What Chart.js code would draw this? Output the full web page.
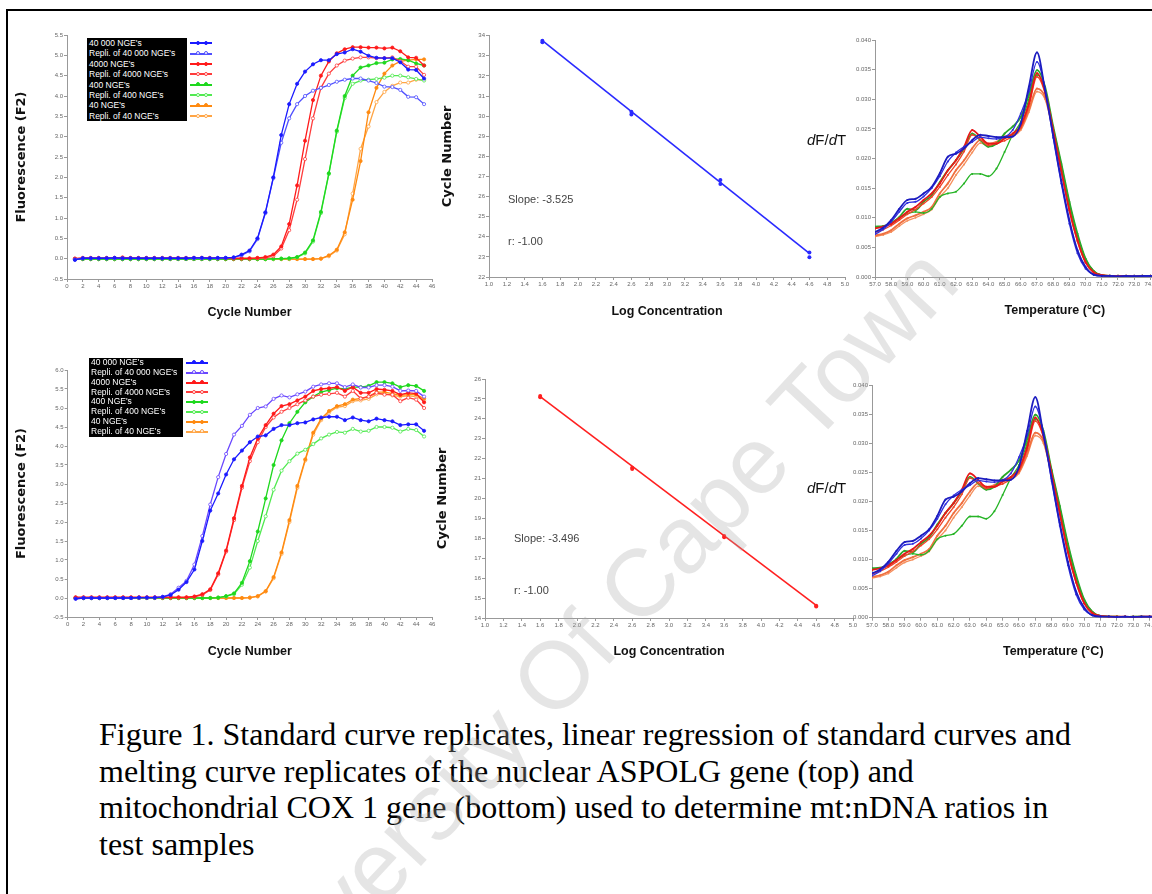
<!DOCTYPE html>
<html>
<head>
<meta charset="utf-8">
<script src="https://cdn.jsdelivr.net/npm/chart.js@4.4.0/dist/chart.umd.min.js"></script>
<style>
  body { margin: 0; width: 1152px; height: 894px; overflow: hidden; background: #fff; position: relative; font-family: 'Liberation Sans', Arial, sans-serif; }
  .frame { position: absolute; left: 6px; top: 9px; width: 1300px; height: 1000px; border-left: 2px solid #000; border-top: 2px solid #000; }
  .cv { position: absolute; }
  .legend { position: absolute; background: #000; color: #fff; font-size: 8.5px; }
  .legend div { padding-left: 2px; white-space: nowrap; }
  .sample { position: absolute; height: 2px; }
  .sample span { position: absolute; top: -1.5px; width: 4px; height: 4px; border-radius: 50%; }
  .note { position: absolute; font-size: 11px; color: #444; }
  .dfdt { position: absolute; font-size: 15px; color: #111; }
  .caption { position: absolute; left: 99px; top: 716px; font-family: 'Liberation Serif', 'Times New Roman', serif; font-size: 32px; line-height: 36.7px; color: #000; white-space: nowrap; }
  .watermark { position: absolute; left: -17px; top: 597px; width: 1200px; height: 95px; font-size: 95px; line-height: 95px; text-align: center; color: rgba(170,170,170,0.3); transform: rotate(-47deg); white-space: nowrap; pointer-events: none; z-index: 10; }
</style>
</head>
<body>
<div class="frame"></div>

<script>
// amplification curves (cycle number vs fluorescence F2)
const cycles = [1,2,3,4,5,6,7,8,9,10,11,12,13,14,15,16,17,18,19,20,21,22,23,24,25,26,27,28,29,30,31,32,33,34,35,36,37,38,39,40,41,42,43,44,45]
const ampNames = ["40 000 NGE's", "Repli. of 40 000 NGE's", "4000 NGE's", "Repli. of 4000 NGE's", "400 NGE's", "Repli. of 400 NGE's", "40 NGE's", "Repli. of 40 NGE's"]

// top: nuclear ASPOLG
const topBlue1 = [-0.03,0.01,0.01,0.01,0.01,0.02,0.01,0.01,0.01,0.01, 0.01,0.01,0.01,0.01,0.01,0.02,0.02,0.01,0.02,0.02, 0.03,0.10,0.20,0.50,1.14,2.00,3.04,3.80,4.30,4.60, 4.78,4.88,4.88,5.03,5.07,5.15,5.09,4.99,4.94,4.93, 4.93,4.83,4.65,4.64,4.43]
const topBlue2 = [-0.02,0.01,0.01,0.01,0.01,0.01,0.01,0.01,0.01,0.01, 0.01,0.01,0.01,0.01,0.01,0.01,0.01,0.01,0.01,0.02, 0.03,0.08,0.18,0.48,1.12,1.98,2.85,3.45,3.80,4.00, 4.13,4.20,4.27,4.35,4.40,4.43,4.43,4.38,4.32,4.23, 4.22,4.15,3.98,3.97,3.80]
const topRed1 = [0.00,0.02,0.02,0.02,0.02,0.02,0.03,0.02,0.02,0.02, 0.02,0.02,0.02,0.02,0.02,0.02,0.02,0.02,0.01,0.01, 0.01,0.01,0.01,0.02,0.04,0.10,0.30,0.85,1.80,2.90, 3.90,4.50,4.85,5.05,5.15,5.20,5.20,5.19,5.19,5.17, 5.19,5.10,4.95,4.94,4.75]
const topRed2 = [0.00,0.01,0.01,0.01,0.01,0.01,0.01,0.01,0.01,0.01, 0.01,0.01,0.01,0.01,0.01,0.01,0.01,0.01,0.01,0.01, 0.00,0.00,0.00,0.01,0.02,0.06,0.25,0.70,1.45,2.45, 3.45,4.20,4.55,4.75,4.87,4.92,4.95,4.95,4.93,4.93, 4.95,4.86,4.72,4.72,4.52]
const topGreen1 = [-0.01,-0.01,-0.01,-0.01,-0.01,-0.01,-0.01,-0.01,-0.01,-0.01, -0.01,-0.01,-0.01,-0.01,-0.01,-0.01,-0.01,-0.01,-0.01,-0.01, -0.01,-0.01,-0.01,-0.01,-0.01,0.00,0.00,0.01,0.04,0.15, 0.45,1.15,2.10,3.15,4.00,4.50,4.70,4.75,4.81,4.82, 4.90,4.91,4.88,4.80,4.75]
const topGreen2 = [-0.01,-0.01,-0.01,-0.01,-0.01,-0.01,-0.01,-0.01,-0.01,-0.01, -0.01,-0.01,-0.01,-0.01,-0.01,-0.01,-0.01,-0.01,-0.01,-0.01, 0.00,0.00,-0.01,-0.01,-0.01,-0.01,0.00,0.00,0.03,0.13, 0.42,1.12,2.08,3.12,3.95,4.30,4.38,4.40,4.42,4.45, 4.50,4.50,4.46,4.42,4.38]
const topOrange1 = [-0.01,-0.01,-0.01,-0.01,-0.01,-0.01,-0.01,-0.01,-0.01,-0.01, -0.01,-0.01,-0.01,-0.01,-0.01,-0.01,-0.01,-0.01,-0.01,-0.01, -0.01,-0.01,-0.01,-0.01,-0.01,-0.01,-0.01,-0.01,-0.01,-0.01, -0.01,0.00,0.08,0.22,0.65,1.45,2.40,3.60,4.20,4.55, 4.75,4.85,4.88,4.90,4.90]
const topOrange2 = [-0.01,-0.01,-0.01,-0.01,-0.01,-0.01,-0.01,-0.01,-0.01,-0.01, -0.01,-0.01,-0.01,-0.01,-0.01,-0.01,-0.01,-0.01,-0.01,-0.01, -0.01,-0.01,-0.01,-0.01,-0.01,-0.01,-0.01,-0.01,-0.01,-0.01, -0.01,0.00,0.06,0.20,0.60,1.60,2.70,3.25,3.85,4.10, 4.25,4.33,4.33,4.40,4.40]

// bottom: mitochondrial COX 1
const botBlue1 = [-0.02,0.00,0.00,0.00,0.00,0.00,0.00,0.00,0.01,0.01, 0.01,0.03,0.08,0.22,0.42,0.75,1.50,2.30,2.75,3.25, 3.65,3.88,4.10,4.25,4.28,4.45,4.55,4.55,4.60,4.62, 4.70,4.75,4.77,4.77,4.68,4.75,4.68,4.65,4.72,4.68, 4.65,4.55,4.57,4.57,4.40]
const botBlue2 = [-0.02,0.00,0.00,0.00,0.00,0.00,0.00,0.00,0.01,0.01, 0.01,0.03,0.10,0.27,0.45,0.88,1.63,2.46,3.18,3.79, 4.30,4.53,4.82,5.00,5.04,5.24,5.33,5.28,5.36,5.43, 5.56,5.62,5.65,5.65,5.55,5.62,5.54,5.54,5.60,5.60, 5.56,5.45,5.46,5.45,5.30]
const botRed1 = [0.02,0.02,0.02,0.02,0.02,0.02,0.02,0.02,0.02,0.02, 0.02,0.02,0.02,0.02,0.02,0.04,0.10,0.23,0.65,1.25, 2.10,2.95,3.70,4.20,4.55,4.85,5.05,5.10,5.20,5.30, 5.45,5.50,5.52,5.55,5.45,5.55,5.40,5.40,5.50,5.48, 5.45,5.35,5.40,5.38,5.15]
const botRed2 = [0.01,0.01,0.01,0.01,0.01,0.01,0.01,0.01,0.01,0.01, 0.01,0.01,0.01,0.01,0.01,0.03,0.08,0.21,0.62,1.22, 2.05,2.90,3.60,4.10,4.50,4.75,4.90,5.00,5.10,5.20, 5.30,5.35,5.37,5.40,5.30,5.45,5.25,5.30,5.40,5.35, 5.35,5.18,5.27,5.22,5.00]
const botGreen1 = [0.00,0.00,0.00,0.00,0.00,0.00,0.00,0.00,0.00,0.00, 0.00,0.00,0.00,0.00,0.00,0.00,0.00,0.00,0.01,0.05, 0.12,0.40,0.97,1.75,2.62,3.50,4.15,4.60,4.90,5.15, 5.30,5.42,5.47,5.52,5.50,5.55,5.55,5.58,5.68,5.68, 5.65,5.55,5.60,5.58,5.45]
const botGreen2 = [0.00,0.00,0.00,0.00,0.00,0.00,0.00,0.00,0.00,0.00, 0.00,0.00,0.00,0.00,0.00,0.00,0.00,0.00,0.01,0.04, 0.10,0.35,0.80,1.50,2.15,2.85,3.35,3.60,3.80,3.90, 4.05,4.20,4.30,4.37,4.35,4.45,4.38,4.40,4.50,4.50, 4.48,4.38,4.45,4.42,4.25]
const botOrange1 = [0.00,0.00,0.00,0.00,0.00,0.00,0.00,0.00,0.00,0.00, 0.00,0.00,0.00,0.00,0.00,0.00,0.00,0.00,0.00,0.00, 0.00,0.00,0.01,0.05,0.18,0.55,1.20,2.05,2.95,3.65, 4.35,4.72,4.92,5.05,5.10,5.22,5.25,5.30,5.42,5.42, 5.38,5.33,5.35,5.35,5.25]
const botOrange2 = [0.00,0.00,0.00,0.00,0.00,0.00,0.00,0.00,0.00,0.00, 0.00,0.00,0.00,0.00,0.00,0.00,0.00,0.00,0.00,0.00, 0.00,0.00,0.01,0.04,0.17,0.52,1.16,2.00,2.90,3.62, 4.30,4.68,4.88,5.02,5.05,5.18,5.20,5.24,5.36,5.38, 5.33,5.30,5.32,5.30,5.20]

// standard curves (log concentration vs cycle number), two replicates per level
const logConc = [1.6, 1.6, 2.6, 2.6, 3.6, 3.6, 4.6, 4.6]
const topCt = [33.75, 33.68, 30.22, 30.08, 26.82, 26.62, 23.22, 22.98]
const botCt = [25.15, 25.08, 21.55, 21.48, 18.12, 18.05, 14.62, 14.58]
const fitX = [1.6, 4.6]
const topFitY = [33.75, 23.17]
const botFitY = [25.12, 14.63]

// melting curves (temperature vs dF/dT), same for both genes
const meltTemps = [57.0,57.5,58.0,58.5,59.0,59.5,60.0,60.5,61.0,61.5,62.0,62.5,63.0,63.5,64.0,64.5,65.0,65.5,66.0,66.5,67.0,67.5,68.0,68.5,69.0,69.5,70.0,70.5,71.0,71.5,72.0,72.5,73.0,73.5,74.0,74.5]
const meltBlue1 = [0.0076,0.0083,0.0096,0.0115,0.0130,0.0132,0.0141,0.0152,0.0175,0.0203,0.0208,0.0217,0.0231,0.0240,0.0238,0.0236,0.0236,0.0237,0.0259,0.0321,0.0379,0.0315,0.0239,0.0163,0.0096,0.0045,0.0017,0.0004,0.0002,0.0002,0.0001,0.0002,0.0001,0.0002,0.0002,0.0002]
const meltBlue2 = [0.0072,0.0080,0.0093,0.0110,0.0125,0.0127,0.0136,0.0150,0.0170,0.0195,0.0210,0.0220,0.0228,0.0236,0.0234,0.0233,0.0236,0.0248,0.0276,0.0313,0.0363,0.0318,0.0235,0.0158,0.0090,0.0040,0.0014,0.0004,0.0002,0.0002,0.0001,0.0001,0.0002,0.0001,0.0001,0.0001]
const meltRed1 = [0.0082,0.0085,0.0090,0.0099,0.0110,0.0118,0.0130,0.0141,0.0158,0.0180,0.0197,0.0220,0.0248,0.0237,0.0225,0.0225,0.0234,0.0242,0.0256,0.0293,0.0344,0.0313,0.0248,0.0180,0.0113,0.0062,0.0025,0.0008,0.0003,0.0002,0.0002,0.0002,0.0001,0.0002,0.0002,0.0002]
const meltRed2 = [0.0075,0.0080,0.0087,0.0096,0.0106,0.0114,0.0124,0.0135,0.0152,0.0172,0.0190,0.0212,0.0240,0.0232,0.0222,0.0226,0.0230,0.0238,0.0252,0.0288,0.0338,0.0310,0.0246,0.0178,0.0112,0.0060,0.0024,0.0007,0.0003,0.0002,0.0001,0.0002,0.0002,0.0001,0.0002,0.0001]
const meltGreen1 = [0.0085,0.0086,0.0090,0.0101,0.0115,0.0113,0.0127,0.0138,0.0160,0.0180,0.0197,0.0217,0.0242,0.0231,0.0220,0.0225,0.0242,0.0254,0.0270,0.0307,0.0349,0.0321,0.0254,0.0192,0.0127,0.0073,0.0031,0.0010,0.0003,0.0002,0.0002,0.0001,0.0002,0.0002,0.0001,0.0002]
const meltGreen2 = [0.0083,0.0085,0.0092,0.0100,0.0107,0.0110,0.0108,0.0115,0.0135,0.0141,0.0144,0.0158,0.0174,0.0174,0.0170,0.0183,0.0211,0.0240,0.0262,0.0299,0.0341,0.0318,0.0252,0.0190,0.0125,0.0070,0.0030,0.0010,0.0003,0.0002,0.0002,0.0002,0.0001,0.0002,0.0002,0.0001]
const meltOrange1 = [0.0070,0.0073,0.0079,0.0090,0.0099,0.0104,0.0110,0.0118,0.0141,0.0158,0.0180,0.0197,0.0217,0.0231,0.0225,0.0228,0.0237,0.0240,0.0251,0.0282,0.0318,0.0304,0.0248,0.0186,0.0118,0.0068,0.0028,0.0009,0.0003,0.0002,0.0002,0.0001,0.0002,0.0002,0.0002,0.0001]
const meltOrange2 = [0.0068,0.0071,0.0076,0.0086,0.0095,0.0100,0.0106,0.0114,0.0135,0.0150,0.0172,0.0190,0.0210,0.0226,0.0222,0.0226,0.0234,0.0238,0.0248,0.0278,0.0313,0.0300,0.0245,0.0184,0.0116,0.0066,0.0027,0.0008,0.0003,0.0002,0.0001,0.0002,0.0001,0.0002,0.0001,0.0002]

const topColors = ['#1a1aff', '#5050ff', '#ff1a1a', '#ff3c3c', '#1ed81e', '#52ea52', '#ff8a10', '#ffa545']
const botColors = ['#1a1aff', '#6a48ff', '#ff1a1a', '#ff3c3c', '#1ed81e', '#52ea52', '#ff8a10', '#ffa545']
const meltColors = ['#1c1cc0', '#3030dd', '#e81818', '#f04428', '#2aa82a', '#26b426', '#f07040', '#f5905e']

const yTitleFont = { family: "'DejaVu Sans', sans-serif", weight: 'bold', size: 13 }
const xTitleFont = { family: "'Liberation Sans', Arial, sans-serif", weight: 'bold', size: 12.5 }

function pts(xs, ys) {
    return xs.map((x, i) => ({ x: x, y: ys[i] }))
}

function scale(s, title, afterFit) {
    return {
        type: 'linear', min: s.min, max: s.max,
        ticks: { stepSize: s.step, includeBounds: false, autoSkip: false, maxRotation: 0, padding: 1,
                 font: { size: 6, family: "'Liberation Sans', sans-serif" }, color: '#666',
                 callback: v => v.toFixed(s.dec) },
        grid: { drawOnChartArea: false, drawTicks: true, tickLength: 3, color: '#999' },
        border: { color: '#999', width: 1 },
        title: title ? { display: true, text: title.text, font: title.font, color: '#111', padding: 0 } : { display: false },
        afterFit: afterFit
    }
}

// box = canvas rect on the page, area = wanted plot area on the page
function makeChart(box, area, o) {
    const c = document.createElement('canvas')
    c.width = box.w
    c.height = box.h
    c.className = 'cv'
    c.style.left = box.x + 'px'
    c.style.top = box.y + 'px'
    document.body.appendChild(c)

    const yLh = o.yTitle ? o.yTitle.font.size * 1.2 : 0
    const xLh = o.xTitle.font.size * 1.2
    const padLeft = o.yTitle ? o.yTitleX - box.x - yLh / 2 : 2
    const yW = area.left - box.x - padLeft
    const xH = o.xTitleY + xLh / 2 - area.bottom
    const padBottom = box.y + box.h - (o.xTitleY + xLh / 2)

    return new Chart(c, {
        type: 'line',
        data: { datasets: o.datasets },
        options: {
            responsive: false,
            animation: false,
            layout: { padding: { left: padLeft, top: area.top - box.y, right: box.x + box.w - area.right, bottom: padBottom } },
            plugins: { legend: { display: false }, tooltip: { enabled: false } },
            scales: {
                x: scale(o.x, o.xTitle, s => { s.height = xH }),
                y: scale(o.y, o.yTitle, s => { s.width = yW })
            }
        }
    })
}

function ampSets(series, colors) {
    return series.map((ys, i) => ({
        data: pts(cycles, ys),
        borderColor: colors[i],
        backgroundColor: colors[i],
        borderWidth: 1.3,
        pointRadius: 1.6,
        pointBorderWidth: 0.8,
        pointBackgroundColor: i % 2 ? '#fff' : colors[i],
        pointBorderColor: colors[i]
    }))
}

function meltSets(series) {
    return series.map((ys, i) => ({
        data: pts(meltTemps, ys),
        borderColor: meltColors[i],
        backgroundColor: meltColors[i],
        borderWidth: i % 2 ? 1.3 : 1.8,
        pointRadius: 1,
        pointBorderWidth: 0,
        cubicInterpolationMode: 'monotone'
    }))
}

function stdSets(ys, fitY, color) {
    return [
        { data: pts(fitX, fitY), borderColor: color, borderWidth: 1.6, pointRadius: 0 },
        { data: pts(logConc, ys), showLine: false, borderColor: color, backgroundColor: color, pointRadius: 2, pointBorderWidth: 0 }
    ]
}

function legend(left, top, width, rowH, sampleX, colors) {
    const box = document.createElement('div')
    box.className = 'legend'
    box.style.left = left + 'px'
    box.style.top = top + 'px'
    box.style.width = width + 'px'
    ampNames.forEach((name, i) => {
        const row = document.createElement('div')
        row.textContent = name
        row.style.height = rowH + 'px'
        row.style.lineHeight = rowH + 'px'
        box.appendChild(row)

        const s = document.createElement('div')
        s.className = 'sample'
        s.style.left = sampleX + 'px'
        s.style.top = (top + rowH * i + rowH / 2 - 1) + 'px'
        s.style.width = '22px'
        s.style.background = colors[i]
        ;[6, 14].forEach(dx => {
            const d = document.createElement('span')
            d.style.left = dx + 'px'
            d.style.background = i % 2 ? '#fff' : colors[i]
            d.style.border = '0.8px solid ' + colors[i]
            d.style.boxSizing = 'border-box'
            s.appendChild(d)
        })
        document.body.appendChild(s)
    })
    document.body.appendChild(box)
}

function note(text, left, cy, cls) {
    const d = document.createElement('div')
    d.className = cls || 'note'
    d.innerHTML = text
    d.style.left = left + 'px'
    d.style.top = cy + 'px'
    d.style.transform = 'translateY(-50%)'
    document.body.appendChild(d)
}

const ampX = { min: 0, max: 46, step: 2, dec: 0 }
const meltX = { min: 57, max: 79.2, step: 1, dec: 1 }
const meltY = { min: 0, max: 0.04, step: 0.005, dec: 3 }
const stdX = { min: 1, max: 5, step: 0.2, dec: 1 }

// top row
makeChart({ x: 0, y: 18, w: 447, h: 312 }, { left: 67, top: 35, right: 432, bottom: 279 }, {
    x: ampX, y: { min: -0.5, max: 5.5, step: 0.5, dec: 1 },
    xTitle: { text: 'Cycle Number', font: xTitleFont }, xTitleY: 313,
    yTitle: { text: 'Fluorescence (F2)', font: yTitleFont }, yTitleX: 22,
    datasets: ampSets([topBlue1, topBlue2, topRed1, topRed2, topGreen1, topGreen2, topOrange1, topOrange2], topColors)
})
legend(87, 38, 100, 10.4, 190, topColors)

makeChart({ x: 430, y: 18, w: 430, h: 312 }, { left: 489, top: 35.7, right: 845, bottom: 277 }, {
    x: stdX, y: { min: 22, max: 34, step: 1, dec: 0 },
    xTitle: { text: 'Log Concentration', font: xTitleFont }, xTitleY: 312,
    yTitle: { text: 'Cycle Number', font: yTitleFont }, yTitleX: 448,
    datasets: stdSets(topCt, topFitY, '#2a2aff')
})
note('Slope: -3.525', 508, 199)
note('r: -1.00', 508, 241)

makeChart({ x: 840, y: 22, w: 410, h: 308 }, { left: 875, top: 40, right: 1234.6, bottom: 277 }, {
    x: meltX, y: meltY,
    xTitle: { text: 'Temperature (°C)', font: xTitleFont }, xTitleY: 311,
    datasets: meltSets([meltBlue1, meltBlue2, meltRed1, meltRed2, meltGreen1, meltGreen2, meltOrange1, meltOrange2])
})
note('<i>d</i>F/<i>d</i>T', 807, 139, 'dfdt')

// bottom row
makeChart({ x: 0, y: 352, w: 447, h: 318 }, { left: 67.7, top: 370, right: 432, bottom: 617 }, {
    x: ampX, y: { min: -0.5, max: 6.0, step: 0.5, dec: 1 },
    xTitle: { text: 'Cycle Number', font: xTitleFont }, xTitleY: 652,
    yTitle: { text: 'Fluorescence (F2)', font: yTitleFont }, yTitleX: 22,
    datasets: ampSets([botBlue1, botBlue2, botRed1, botRed2, botGreen1, botGreen2, botOrange1, botOrange2], botColors)
})
legend(89, 358, 94, 9.85, 186, botColors)

makeChart({ x: 425, y: 360, w: 443, h: 310 }, { left: 485, top: 379, right: 853, bottom: 618 }, {
    x: stdX, y: { min: 14, max: 26, step: 1, dec: 0 },
    xTitle: { text: 'Log Concentration', font: xTitleFont }, xTitleY: 652,
    yTitle: { text: 'Cycle Number', font: yTitleFont }, yTitleX: 443,
    datasets: stdSets(botCt, botFitY, '#ff2020')
})
note('Slope: -3.496', 514, 538)
note('r: -1.00', 514, 590)

makeChart({ x: 840, y: 365, w: 410, h: 305 }, { left: 872, top: 385, right: 1234.5, bottom: 617.7 }, {
    x: meltX, y: meltY,
    xTitle: { text: 'Temperature (°C)', font: xTitleFont }, xTitleY: 652,
    datasets: meltSets([meltBlue1, meltBlue2, meltRed1, meltRed2, meltGreen1, meltGreen2, meltOrange1, meltOrange2])
})
note('<i>d</i>F/<i>d</i>T', 807, 487, 'dfdt')
</script>

<div class="caption">Figure 1. Standard curve replicates, linear regression of standard curves and<br>melting curve replicates of the nuclear ASPOLG gene (top) and<br>mitochondrial COX 1 gene (bottom) used to determine mt:nDNA ratios in<br>test samples</div>
<div class="watermark">University Of Cape Town</div>
</body>
</html>
